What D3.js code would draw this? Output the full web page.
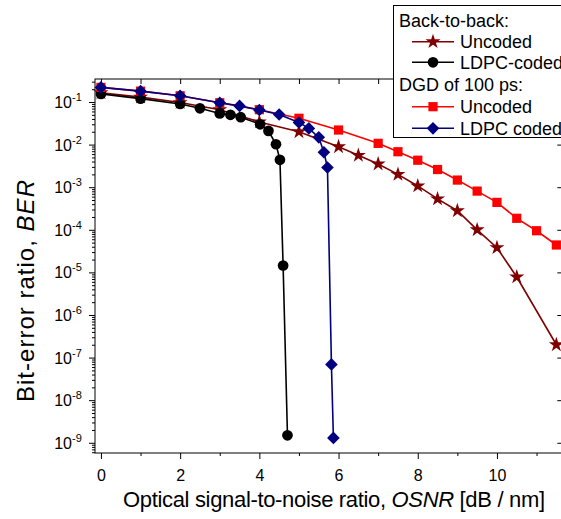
<!DOCTYPE html>
<html>
<head>
<meta charset="utf-8">
<script src="https://cdn.jsdelivr.net/npm/d3@7"></script>
<style>
  body { margin: 0; background: #fff; }
  svg { font-family: "Liberation Sans", Arial, sans-serif; }
  .axis path, .axis line { stroke: #000; stroke-width: 1; }
</style>
</head>
<body>
<svg id="chart" width="561" height="519"></svg>
<script>
// Back-to-back, uncoded
var b2b_unc_x = [0, 1, 2, 3, 4, 5, 6, 6.5, 7, 7.5, 8, 8.5, 9, 9.5, 10, 10.5, 11.5];
var b2b_unc_y = [0.165, 0.13, 0.097, 0.066, 0.034, 0.020, 8.9e-3, 5.6e-3, 3.5e-3, 2.0e-3, 1.07e-3, 5.3e-4, 2.8e-4, 1.0e-4, 3.8e-5, 7.8e-6, 2.0e-7];
// Back-to-back, LDPC coded
var b2b_ldpc_x = [0, 1, 2, 2.5, 3, 3.27, 3.53, 4.02, 4.23, 4.42, 4.52, 4.6, 4.71];
var b2b_ldpc_y = [0.155, 0.12, 0.09, 0.071, 0.054, 0.05, 0.044, 0.030, 0.021, 0.0102, 4.4e-3, 1.45e-5, 1.5e-9];
// DGD 100 ps, uncoded
var dgd_unc_x = [0, 1, 2, 3, 4, 5, 6, 7, 7.5, 8, 8.5, 9, 9.5, 10, 10.5, 11, 11.5];
var dgd_unc_y = [0.22, 0.18, 0.14, 0.096, 0.066, 0.0415, 0.022, 0.0107, 6.8e-3, 4.3e-3, 2.6e-3, 1.47e-3, 8.1e-4, 4.4e-4, 1.86e-4, 9.5e-5, 4.4e-5];
// DGD 100 ps, LDPC coded
var dgd_ldpc_x = [0, 1, 2, 3, 3.5, 4, 4.5, 5, 5.25, 5.5, 5.63, 5.72, 5.82, 5.87];
var dgd_ldpc_y = [0.22, 0.18, 0.14, 0.096, 0.081, 0.065, 0.051, 0.033, 0.024, 0.0148, 6.6e-3, 2.9e-3, 6.9e-8, 1.3e-9];

var x_ticks = [0, 2, 4, 6, 8, 10];
var x_minor = [1, 3, 5, 7, 9, 11];
var y_exponents = [-1, -2, -3, -4, -5, -6, -7, -8, -9];

var svg = d3.select("#chart");

var x = d3.scaleLinear().domain([-0.15, 11.65]).range([95, 562.3]);
var y = d3.scaleLog().domain([Math.pow(10, -9.24), Math.pow(10, -0.46)]).range([453, 79]);

// minor ticks of the log axis
var y_minor = [];
for (var e = -10; e <= 0; e++) {
  for (var m = 2; m <= 9; m++) {
    var v = m * Math.pow(10, e);
    if (v > y.domain()[0] && v < y.domain()[1]) y_minor.push(v);
  }
}
var y_major = y_exponents.map(function(k){ return Math.pow(10, k); });

// frame
svg.append("rect")
  .attr("x", 95).attr("y", 79)
  .attr("width", 467.3).attr("height", 374)
  .attr("fill", "none").attr("stroke", "#000");

// bottom axis
svg.append("g").attr("class", "axis")
  .attr("transform", "translate(0,453)")
  .call(d3.axisBottom(x).tickValues(x_minor).tickSize(3).tickFormat(""))
  .call(function(g){ g.select(".domain").remove(); });
svg.append("g").attr("class", "axis")
  .attr("transform", "translate(0,453)")
  .call(d3.axisBottom(x).tickValues(x_ticks).tickSize(6).tickPadding(11).tickFormat(d3.format("d")))
  .call(function(g){
    g.select(".domain").remove();
    g.selectAll("text").attr("font-size", 16).attr("font-family", "Liberation Sans, Arial");
  });

// top axis, ticks inward
svg.append("g").attr("class", "axis")
  .attr("transform", "translate(0,79)")
  .call(d3.axisBottom(x).tickValues(x_ticks.concat(x_minor)).tickSize(5).tickFormat(""))
  .call(function(g){ g.select(".domain").remove(); });

// left axis
svg.append("g").attr("class", "axis")
  .attr("transform", "translate(95,0)")
  .call(d3.axisLeft(y).tickValues(y_minor).tickSize(3).tickFormat(""))
  .call(function(g){ g.select(".domain").remove(); });
svg.append("g").attr("class", "axis")
  .attr("transform", "translate(95,0)")
  .call(d3.axisLeft(y).tickValues(y_major).tickSize(6).tickFormat(""))
  .call(function(g){ g.select(".domain").remove(); });

// right axis, ticks inward
svg.append("g").attr("class", "axis")
  .attr("transform", "translate(562.3,0)")
  .call(d3.axisRight(y).tickValues(y_major).tickSize(-5).tickFormat(""))
  .call(function(g){ g.select(".domain").remove(); });

// y tick labels 10^k
var ylab = svg.append("g").attr("font-size", 16).attr("fill", "#000");
y_exponents.forEach(function(k){
  ylab.append("text")
    .attr("x", 72).attr("y", y(Math.pow(10, k)) + 6)
    .attr("text-anchor", "end")
    .text("10");
  ylab.append("text")
    .attr("x", 72).attr("y", y(Math.pow(10, k)) - 1)
    .attr("font-size", 11)
    .text(String(k));
});

// axis titles
var xt = svg.append("text")
  .attr("x", 123).attr("y", 507)
  .attr("font-size", 22)
  .attr("textLength", 422)
  .attr("lengthAdjust", "spacing");
xt.append("tspan").text("Optical signal-to-noise ratio, ");
xt.append("tspan").attr("font-style", "italic").text("OSNR");
xt.append("tspan").text(" [dB / nm]");

var yt = svg.append("text")
  .attr("transform", "translate(34,402) rotate(-90)")
  .attr("font-size", 24)
  .attr("textLength", 222)
  .attr("lengthAdjust", "spacing");
yt.append("tspan").text("Bit-error ratio, ");
yt.append("tspan").attr("font-style", "italic").text("BER");

// series
var diamond = {
  draw: function(ctx, size) {
    var r = Math.sqrt(size / 2);
    ctx.moveTo(0, -r); ctx.lineTo(r, 0); ctx.lineTo(0, r); ctx.lineTo(-r, 0); ctx.closePath();
  }
};
var series = [
  {xs: b2b_unc_x, ys: b2b_unc_y, color: "#800000", symbol: d3.symbolStar, size: 70},
  {xs: b2b_ldpc_x, ys: b2b_ldpc_y, color: "#000000", symbol: d3.symbolCircle, size: 90},
  {xs: dgd_unc_x, ys: dgd_unc_y, color: "#ff0000", symbol: d3.symbolSquare, size: 85},
  {xs: dgd_ldpc_x, ys: dgd_ldpc_y, color: "#000080", symbol: diamond, size: 80}
];

var line = d3.line()
  .x(function(d){ return x(d[0]); })
  .y(function(d){ return y(d[1]); });

var plot = svg.append("g");
series.forEach(function(s){
  var pts = s.xs.map(function(v, i){ return [v, s.ys[i]]; });
  plot.append("path")
    .attr("d", line(pts))
    .attr("fill", "none")
    .attr("stroke", s.color)
    .attr("stroke-width", 1.6);
  plot.selectAll(null)
    .data(pts)
    .enter()
    .append("path")
    .attr("d", d3.symbol().type(s.symbol).size(s.size))
    .attr("fill", s.color)
    .attr("transform", function(d){ return "translate(" + x(d[0]) + "," + y(d[1]) + ")"; });
});

// legend
var lg = svg.append("g").attr("font-size", 18);
lg.append("rect")
  .attr("x", 393.5).attr("y", 5.5)
  .attr("width", 200).attr("height", 132)
  .attr("fill", "#fff").attr("stroke", "#000");

var legend_rows = [
  {label: "Back-to-back:", cy: 20},
  {label: "Uncoded", cy: 41.7, s: series[0]},
  {label: "LDPC-coded", cy: 62.3, s: series[1]},
  {label: "DGD of 100 ps:", cy: 84},
  {label: "Uncoded", cy: 106.7, s: series[2]},
  {label: "LDPC coded", cy: 128.3, s: series[3]}
];
legend_rows.forEach(function(r){
  if (!r.s) {
    lg.append("text").attr("x", 399).attr("y", r.cy + 6.5).text(r.label);
    return;
  }
  lg.append("line")
    .attr("x1", 412).attr("x2", 454)
    .attr("y1", r.cy).attr("y2", r.cy)
    .attr("stroke", r.s.color).attr("stroke-width", 1.6);
  lg.append("path")
    .attr("d", d3.symbol().type(r.s.symbol).size(r.s.size))
    .attr("fill", r.s.color)
    .attr("transform", "translate(433," + r.cy + ")");
  lg.append("text").attr("x", 460).attr("y", r.cy + 6.5).text(r.label);
});
</script>
</body>
</html>
